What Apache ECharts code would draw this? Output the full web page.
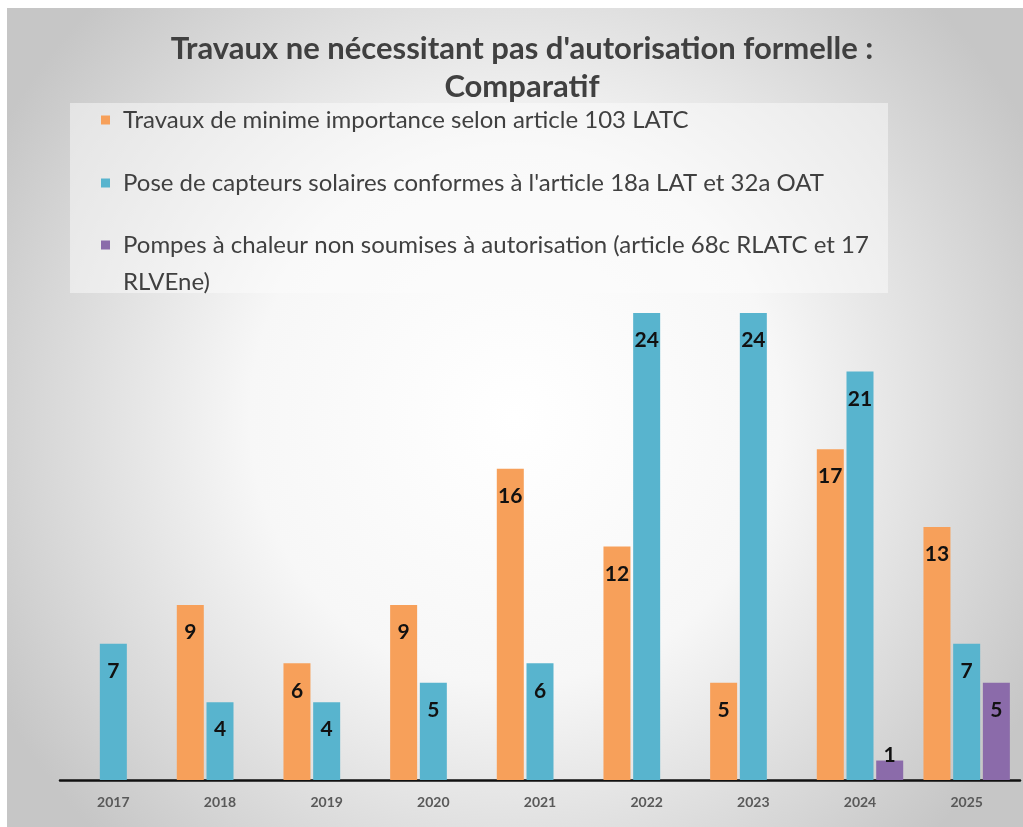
<!DOCTYPE html>
<html>
<head>
<meta charset="utf-8" />
<title>Travaux ne nécessitant pas d'autorisation formelle</title>
<style>
  html, body { margin: 0; height: 100%; background: #fff; }
  #container { position: absolute; left: 7px; top: 8px; width: 1016px; height: 819px; }
</style>
</head>
<body>
<div id="container"></div>
<script type="text/javascript" src="https://cdn.jsdelivr.net/npm/echarts@6/dist/echarts.min.js"></script>
<script type="text/javascript">
var years = ['2017', '2018', '2019', '2020', '2021', '2022', '2023', '2024', '2025'];
var seriesNames = [
    'Travaux de minime importance selon article 103 LATC',
    "Pose de capteurs solaires conformes à l'article 18a LAT et 32a OAT",
    'Pompes à chaleur non soumises à autorisation (article 68c RLATC et 17 RLVEne)'
];
var minimeImportance = [null, 9, 6, 9, 16, 12, 5, 17, 13];
var capteursSolaires = [7, 4, 4, 5, 6, 24, 24, 21, 7];
var pompesChaleur = [null, null, null, null, null, null, null, 1, 5];
var colors = ['#F7A05A', '#58B4CE', '#8B6BAA'];

var FONT = 'Lato, "Open Sans", sans-serif';

var dom = document.getElementById('container');
var myChart = echarts.init(dom);

// labels sit inside the bar top, tiny bars get them just above
function barData(values) {
    return values.map(function (v) {
        if (v !== null && v < 2) {
            return { value: v, label: { position: 'top', distance: -5 } };
        }
        return v;
    });
}

// one legend per entry so the wrapped one can keep its marker on the first line
function legendFor(idx, top) {
    return {
        data: [seriesNames[idx]],
        orient: 'vertical',
        left: 94,
        top: top,
        padding: 0,
        icon: 'rect',
        itemWidth: 9,
        itemHeight: 9,
        selectedMode: false,
        formatter: function (name) {
            if (name.indexOf(' RLVEne)') > 0) {
                // blank first line -> marker lines up with the real first line
                return ' \n' + name.replace(' RLVEne)', '\nRLVEne)');
            }
            return name;
        },
        textStyle: {
            fontFamily: FONT,
            fontSize: 24,
            lineHeight: 37,
            color: '#404040',
            padding: [0, 0, 0, 8]
        }
    };
}

var barLabel = {
    show: true,
    position: 'insideTop',
    distance: 17,
    fontFamily: FONT,
    fontSize: 21,
    fontWeight: 'bold',
    color: '#111'
};

var option = {
    backgroundColor: {
        type: 'radial', x: 0.5, y: 0.5, r: 0.72,
        colorStops: [
            { offset: 0, color: '#ffffff' },
            { offset: 0.45, color: '#f7f7f7' },
            { offset: 1, color: '#c6c6c6' }
        ]
    },
    title: {
        text: "Travaux ne nécessitant pas d'autorisation formelle :\nComparatif",
        left: 510,
        top: 17,
        textAlign: 'center',
        textStyle: {
            fontFamily: FONT,
            fontSize: 31,
            fontWeight: 'bold',
            lineHeight: 38,
            color: '#404040'
        }
    },
    graphic: [{
        type: 'rect',
        left: 63,
        top: 95,
        z: -1,
        shape: { width: 818, height: 190 },
        style: { fill: 'rgba(252,252,252,0.5)' }
    }],
    legend: [
        legendFor(0, 93.5),
        legendFor(1, 156.5),
        legendFor(2, 181.5)
    ],
    grid: { left: 53, right: 3, top: 305, bottom: 47 },
    xAxis: {
        type: 'category',
        data: years,
        axisTick: { show: false },
        axisLine: { lineStyle: { color: '#111', width: 2.5 } },
        axisLabel: {
            margin: 15,
            fontFamily: FONT,
            fontSize: 14,
            fontWeight: 'bold',
            color: '#595959'
        }
    },
    yAxis: {
        type: 'value',
        min: 0,
        max: 24,
        show: false,
        splitLine: { show: false }
    },
    series: [
        { name: seriesNames[0], type: 'bar', data: barData(minimeImportance), barWidth: 27, barGap: '10%', itemStyle: { color: colors[0] }, label: barLabel },
        { name: seriesNames[1], type: 'bar', data: barData(capteursSolaires), barWidth: 27, barGap: '10%', itemStyle: { color: colors[1] }, label: barLabel },
        { name: seriesNames[2], type: 'bar', data: barData(pompesChaleur), barWidth: 27, barGap: '10%', itemStyle: { color: colors[2] }, label: barLabel }
    ]
};

myChart.setOption(option);
</script>
</body>
</html>
